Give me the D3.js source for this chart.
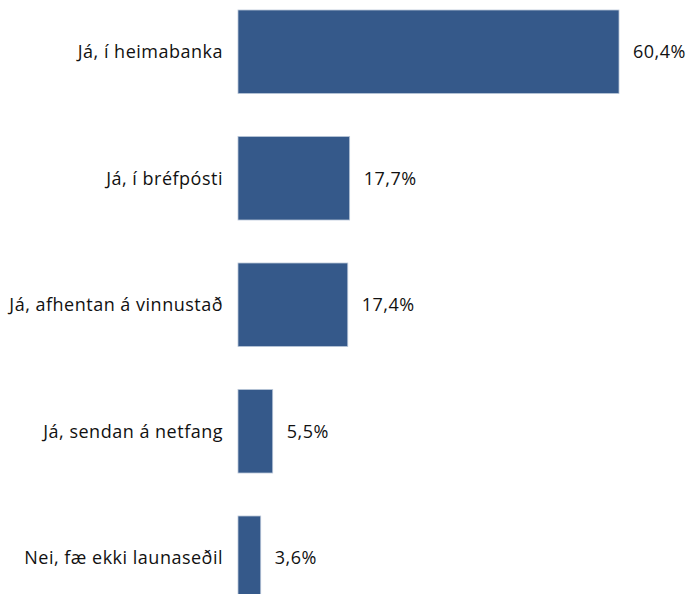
<!DOCTYPE html>
<html>
<head>
<meta charset="utf-8">
<script src="https://cdn.jsdelivr.net/npm/d3@7"></script>
<style>
  body { margin: 0; background: #fff; overflow: hidden; }
  text { font-family: "Open Sans", sans-serif; font-size: 18px; letter-spacing: 0.5px; fill: #111; }
</style>
</head>
<body>
<div id="chart"></div>
<script>
var categories = ['Já, í heimabanka', 'Já, í bréfpósti', 'Já, afhentan á vinnustað', 'Já, sendan á netfang', 'Nei, fæ ekki launaseðil'];
var values = [60.4, 17.7, 17.4, 5.5, 3.6];

var width = 693, height = 594;
var x0 = 238;

var svg = d3.select('#chart')
    .append('svg')
    .attr('width', width)
    .attr('height', height);

var x = d3.scaleLinear()
    .domain([0, 60.4])
    .range([x0, 619]);

var y = d3.scaleBand()
    .domain(categories)
    .range([-11.5, 621])
    .paddingInner(0.34)
    .paddingOuter(0.17);

var data = categories.map((c, i) => ({ cat: c, val: values[i] }));

svg.selectAll('rect.bar')
    .data(data)
    .enter().append('rect')
    .attr('class', 'bar')
    .attr('x', x(0))
    .attr('y', d => y(d.cat))
    .attr('width', d => x(d.val) - x(0))
    .attr('height', y.bandwidth())
    .attr('fill', '#35598a')
    .attr('stroke', '#b9c6d8')
    .attr('stroke-width', 0.8);

svg.selectAll('text.cat')
    .data(data)
    .enter().append('text')
    .attr('class', 'cat')
    .attr('x', 223)
    .attr('y', d => y(d.cat) + y.bandwidth() / 2)
    .attr('dy', '0.35em')
    .attr('text-anchor', 'end')
    .text(d => d.cat);

svg.selectAll('text.val')
    .data(data)
    .enter().append('text')
    .attr('class', 'val')
    .attr('x', d => x(d.val) + 14)
    .attr('y', d => y(d.cat) + y.bandwidth() / 2)
    .attr('dy', '0.35em')
    .text(d => d.val.toFixed(1).replace('.', ',') + '%');
</script>
</body>
</html>
